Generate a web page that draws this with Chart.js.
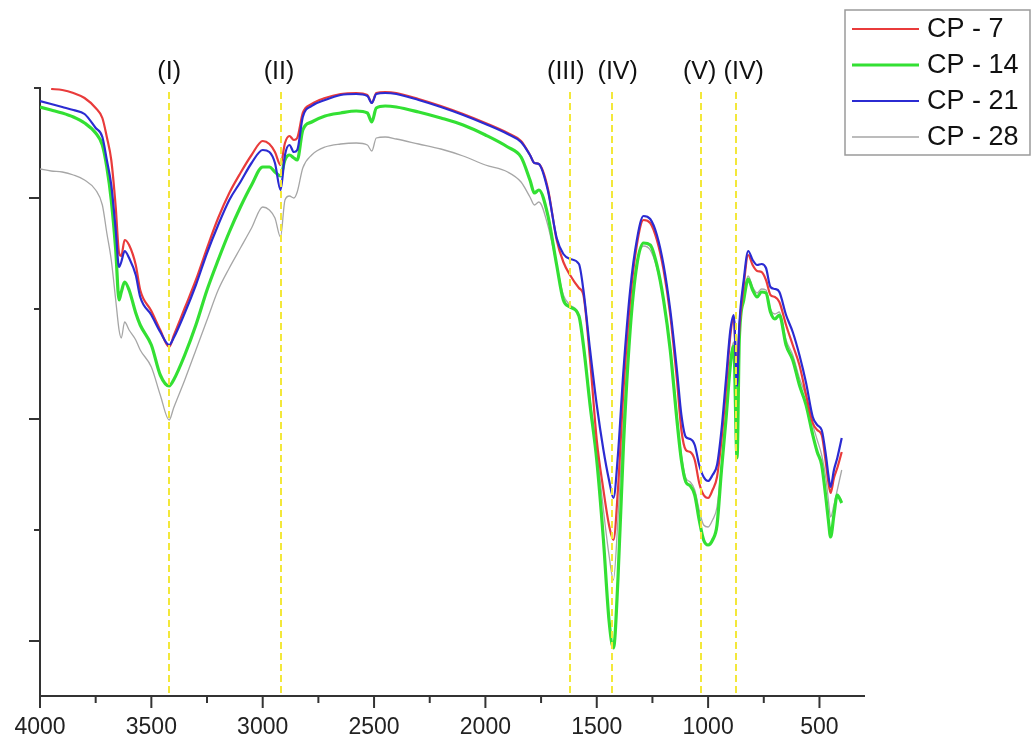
<!DOCTYPE html>
<html>
<head>
<meta charset="utf-8">
<script src="https://cdn.jsdelivr.net/npm/chart.js@4.4.1/dist/chart.umd.min.js"></script>
<style>
body{margin:0;background:#fff}
#wrap{width:1034px;height:740px}
</style>
</head>
<body>
<div id="wrap"><canvas id="ftir" width="1034" height="740"></canvas></div>
<script>

let wavenumbers=[4000,3950,3900,3850,3800,3750,3720,3700,3680,3660,
3645,3635,3620,3600,3570,3550,3500,3460,3420,3400,
3350,3300,3250,3200,3150,3100,3050,3000,2970,2945,
2920,2900,2880,2860,2845,2820,2780,2720,2650,2580,
2530,2510,2490,2450,2400,2300,2200,2100,2000,1900,
1840,1800,1780,1760,1720,1680,1650,1620,1580,1560,
1530,1500,1470,1445,1425,1405,1380,1350,1320,1290,
1260,1230,1200,1170,1140,1120,1100,1080,1060,1040,
1020,1000,980,960,940,920,900,885,870,860,
840,820,800,780,760,740,720,700,680,650,
620,590,560,530,510,490,470,460,450,435,
420,400]

let cp7=[null,60.7,60.6,60.3,59.8,58.8,57.8,55.9,53.6,48.9,
44.3,44.0,45.6,45.1,43.1,40.6,38.5,36.6,34.9,36.0,
38.8,41.6,44.8,47.8,50.3,52.3,54.1,55.5,55.2,54.4,
53.1,55.3,56.0,55.6,55.8,58.3,59.2,59.8,60.2,60.3,
60.1,59.3,60.3,60.4,60.3,59.7,59.0,58.2,57.3,56.3,
55.5,54.1,53.3,53.2,50.8,45.6,43.4,42.1,40.8,40.1,
33.6,25.6,20.6,17.1,15.6,20.6,30.6,39.6,45.1,47.6,
47.3,45.6,42.6,38.1,31.6,26.6,24.6,24.4,23.6,21.3,
20.1,19.8,20.6,21.9,25.6,30.6,36.1,37.8,32.1,36.6,
41.1,44.1,43.1,42.5,42.4,41.6,40.1,39.9,39.4,37.1,
35.1,33.1,30.1,27.3,26.6,26.1,23.1,21.4,20.3,21.8,
22.8,24.4]

let cp14=[58.9,58.6,58.3,57.9,57.3,56.3,55.1,52.9,49.6,44.6,
39.6,40.4,41.4,40.6,38.3,37.1,35.1,32.1,31.0,31.6,
34.1,37.1,40.6,43.6,46.4,48.9,51.1,52.9,52.9,52.4,
52.0,53.6,54.1,53.8,53.6,56.6,57.4,58.0,58.3,58.5,
58.3,57.4,58.8,59.0,58.9,58.4,57.8,57.1,56.1,54.9,
53.9,51.6,50.3,50.6,48.1,43.1,39.6,38.9,38.0,35.1,
29.1,23.6,15.6,7.6,4.8,11.6,25.1,36.6,43.1,45.3,
45.1,43.1,39.6,34.6,27.6,23.6,21.4,21.0,20.1,17.6,
15.6,15.1,15.6,17.1,22.6,27.6,33.1,35.0,23.8,35.6,
39.6,41.7,40.6,39.9,40.4,40.3,38.4,37.7,38.1,35.1,
33.6,31.1,29.1,26.1,24.4,23.1,19.6,17.6,15.9,18.1,
20.1,19.3]

let cp21=[59.5,59.2,58.9,58.6,58.2,56.8,55.9,53.6,51.1,46.6,
42.9,43.4,44.5,43.8,42.1,39.9,38.1,36.4,35.1,35.8,
38.3,41.1,44.3,47.1,49.6,51.4,53.3,54.6,54.4,53.3,
50.6,54.1,55.1,54.4,54.6,57.9,59.0,59.6,60.1,60.2,
60.0,59.3,60.2,60.3,60.2,59.6,58.9,58.1,57.2,56.2,
55.4,54.1,53.3,53.2,50.6,45.8,44.2,43.7,43.2,40.6,
34.6,29.1,24.6,21.6,19.8,24.1,32.6,40.6,45.6,48.0,
47.7,46.1,43.1,38.6,32.6,28.1,25.9,25.7,25.1,23.1,
21.9,21.5,22.1,23.1,26.6,31.6,36.6,38.1,31.0,37.0,
41.6,44.5,43.6,43.1,43.2,42.8,40.9,40.7,40.4,38.1,
36.4,34.1,31.3,27.9,27.1,26.6,23.9,22.1,20.9,22.6,
23.8,25.8]

let cp28=[52.7,52.5,52.4,52.1,51.6,50.6,49.1,46.3,43.6,39.6,
36.6,35.8,37.4,36.6,35.6,34.6,32.9,30.1,27.6,28.8,
31.6,34.6,37.6,40.6,42.8,44.8,46.8,48.9,48.6,47.8,
45.9,49.6,50.0,49.8,50.4,52.8,54.1,54.9,55.2,55.3,
55.1,54.5,55.8,55.9,55.7,55.2,54.7,54.0,53.1,52.4,
51.4,49.9,49.1,49.4,47.1,43.1,40.1,39.1,38.1,35.1,
29.6,24.6,18.6,14.1,11.6,17.6,27.6,37.6,43.4,45.0,
44.6,42.8,39.6,34.8,28.1,24.1,21.8,21.4,20.6,18.6,
17.1,16.9,17.6,18.9,23.1,28.1,33.6,35.4,25.6,36.1,
40.1,42.0,40.9,40.3,40.7,40.6,38.7,38.2,38.4,35.6,
34.1,31.8,29.9,27.1,25.6,24.1,21.6,19.6,17.9,19.1,
20.6,22.6]

let seriesNames=["CP - 7","CP - 14","CP - 21","CP - 28"]
let seriesColors=["#e93b3b","#33e033","#2b2bd2","#a6a6a6"]
let seriesWidths=[2.2,3.2,2.2,1.3]
let seriesOrder=[1,2,0,3]

let xMajorTicks=[4000,3500,3000,2500,2000,1500,1000,500]
let xMinorTicks=[3750,3250,2750,2250,1750,1250,750]
let yMajorTicks=[5.5,27.7,49.8]
let yMinorTicks=[16.6,38.7,60.8]

// band markers and where their captions sit (cm-1)
let bandPositions=[3420,2920,1620,1430,1030,875]
let bandLabels=["(I)","(II)","(III)","(IV)","(V)","(IV)"]
let bandLabelAt=[3420,2927,1639,1406,1038,840]

const fontFamily="'Liberation Sans', Arial, sans-serif"
const axisColor="#333"

function line(ctx,x1,y1,x2,y2){
ctx.beginPath()
ctx.moveTo(x1,y1)
ctx.lineTo(x2,y2)
ctx.stroke()
}

function makeDataset(i,values){
return {
label:seriesNames[i],
data:wavenumbers.map((w,k)=>({x:w,y:values[k]})),
borderColor:seriesColors[i],
borderWidth:seriesWidths[i],
pointRadius:0,
fill:false,
cubicInterpolationMode:"monotone",
order:seriesOrder[i]
}
}

const extras={
id:"extras",
afterDatasetsDraw(chart){

const ctx=chart.ctx
const xs=chart.scales.x
const area=chart.chartArea

ctx.save()
ctx.strokeStyle="#f3e83a"
ctx.lineWidth=2
ctx.setLineDash([7,4])
bandPositions.forEach(w=>{
let px=Math.round(xs.getPixelForValue(w))
line(ctx,px,area.top+4,px,area.bottom)
})
ctx.setLineDash([])

ctx.fillStyle="#111"
ctx.font="25px "+fontFamily
ctx.textAlign="center"
ctx.textBaseline="middle"
bandLabelAt.forEach((w,i)=>{
ctx.fillText(bandLabels[i],xs.getPixelForValue(w),72)
})
ctx.restore()

},
afterDraw(chart){

const ctx=chart.ctx
const xs=chart.scales.x
const ys=chart.scales.y
const area=chart.chartArea

ctx.save()
ctx.strokeStyle=axisColor
ctx.lineWidth=2
xMajorTicks.forEach(v=>{
let px=xs.getPixelForValue(v)
line(ctx,px,area.bottom,px,area.bottom+12)
})
xMinorTicks.forEach(v=>{
let px=xs.getPixelForValue(v)
line(ctx,px,area.bottom,px,area.bottom+7)
})
yMajorTicks.forEach(v=>{
let py=ys.getPixelForValue(v)
line(ctx,area.left-11,py,area.left,py)
})
yMinorTicks.forEach(v=>{
let py=ys.getPixelForValue(v)
line(ctx,area.left-6,py,area.left,py)
})

// legend box
ctx.strokeStyle="#9a9a9a"
ctx.lineWidth=1.5
ctx.fillStyle="#fff"
ctx.fillRect(845,10,185,145)
ctx.strokeRect(845,10,185,145)

ctx.font="27px "+fontFamily
ctx.textAlign="left"
ctx.textBaseline="middle"
seriesNames.forEach((name,i)=>{
let y=29+i*36
ctx.strokeStyle=seriesColors[i]
ctx.lineWidth=seriesWidths[i]
line(ctx,852,y,919,y)
ctx.fillStyle="#111"
ctx.fillText(name,927,y+1)
})
ctx.restore()

}
}

new Chart(document.getElementById("ftir"),{
type:"line",
data:{
datasets:[makeDataset(0,cp7),makeDataset(1,cp14),makeDataset(2,cp21),makeDataset(3,cp28)]
},
options:{
responsive:false,
animation:false,
devicePixelRatio:1,
layout:{padding:{top:88,right:170,left:0,bottom:0}},
plugins:{legend:{display:false},tooltip:{enabled:false}},
scales:{
x:{
type:"linear",
reverse:true,
min:300,
max:4000,
afterBuildTicks:s=>{s.ticks=xMajorTicks.map(v=>({value:v}))},
afterFit:s=>{s.height=44},
grid:{display:false,drawTicks:true,tickLength:12},
border:{display:true,color:axisColor,width:2},
ticks:{
color:"#222",
padding:6,
maxRotation:0,
autoSkip:false,
font:{family:fontFamily,size:23},
callback:v=>String(v)
}
},
y:{
min:0,
max:60.8,
afterFit:s=>{s.width=40},
grid:{display:false},
border:{display:true,color:axisColor,width:2},
ticks:{display:false}
}
}
},
plugins:[extras]
})

</script>
</body>
</html>
